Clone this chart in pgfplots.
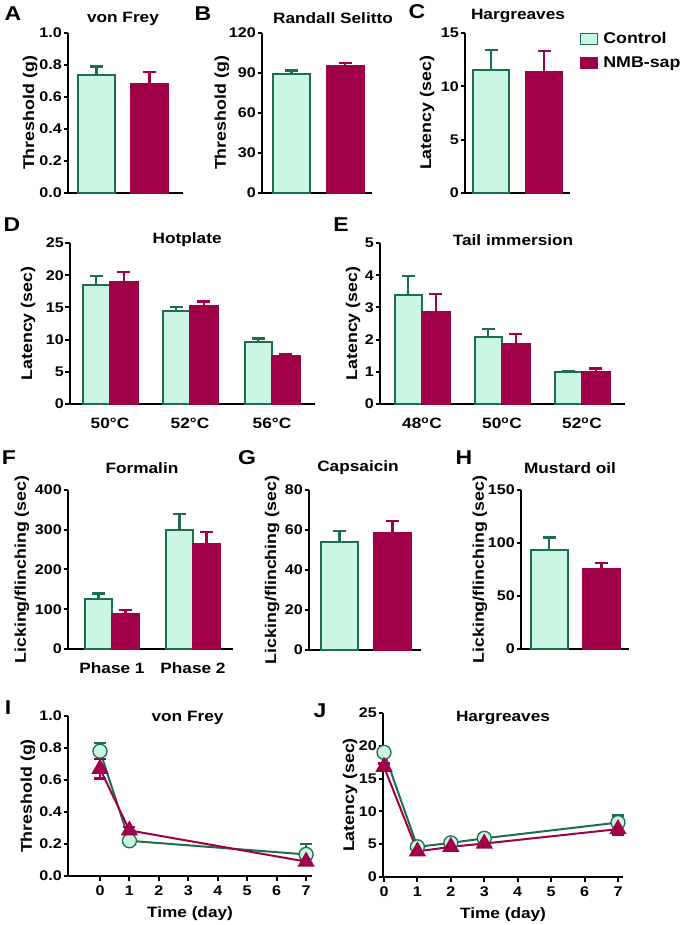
\documentclass[border=0pt]{standalone}
\usepackage{fontspec}
\setmainfont{Liberation Sans}[FakeStretch=1.15]
\usepackage{pgfplots}
\pgfplotsset{compat=1.18}
\definecolor{ctrlfill}{RGB}{204,246,228}
\definecolor{ctrledge}{RGB}{28,110,78}
\definecolor{nmb}{RGB}{160,0,72}
\newcommand{\fs}{\fontsize{15}{17}\selectfont\bfseries}
\newcommand{\ft}{\fontsize{14}{16}\selectfont\bfseries}
\newcommand{\fy}{\fontsize{15.5}{17}\selectfont\bfseries}
\newcommand{\fl}{\fontsize{20}{23}\selectfont\bfseries}
\pgfplotsset{
 panel/.style={
  scale only axis, clip=false,
  axis x line*=bottom, axis y line*=left,
  axis line style={line width=2.4pt,-},
  ymin=0,
  tick align=outside,
  major tick length=4.5pt,
  tick style={line width=2pt,black},
  /pgf/number format/assume math mode=true,
  xticklabel style={font=\fs},
  yticklabel style={font=\ft, inner sep=1.5pt},
  xlabel style={font=\fs},
  ylabel style={font=\fy},
  title style={font=\fs, anchor=center, yshift=-7pt},
 },
 barpanel/.style={panel, xtick style={draw=none}, xticklabel style={yshift=-6pt}},
 cbar/.style={fill=ctrlfill, draw=ctrledge, line width=2pt,
   error bars/y dir=plus, error bars/y explicit,
   error bars/error bar style={line width=2.4pt, ctrledge, solid},
   error bars/error mark options={rotate=90, mark size=6.5pt, line width=2.4pt, ctrledge, solid}},
 nbar/.style={fill=nmb, draw=nmb, line width=2pt,
   error bars/y dir=plus, error bars/y explicit,
   error bars/error bar style={line width=2.4pt, nmb, solid},
   error bars/error mark options={rotate=90, mark size=6.5pt, line width=2.4pt, nmb, solid}},
 lgimg/.style={legend image code/.code={\draw[##1, line width=1.3pt] (0pt,-5.5pt) rectangle (17pt,5.5pt); \path[draw=none,fill=none] (0pt,0pt) -- (21pt,0pt);}},
 cline/.style={ctrledge, line width=2pt, mark=*, mark size=7pt,
   mark options={fill=ctrlfill, draw=ctrledge, line width=1.3pt, solid},
   error bars/y dir=both, error bars/y explicit,
   error bars/error bar style={line width=2.4pt, ctrledge},
   error bars/error mark options={rotate=90, mark size=6pt, line width=2.4pt, ctrledge}},
 nline/.style={nmb, line width=2pt, mark=triangle*, mark size=8pt,
   mark options={fill=nmb, draw=nmb, solid},
   error bars/y dir=both, error bars/y explicit,
   error bars/error bar style={line width=2.4pt, nmb},
   error bars/error mark options={rotate=90, mark size=6pt, line width=2.4pt, nmb}},
 linepanel/.style={panel, xticklabel style={font=\ft, yshift=-2pt}, xlabel style={yshift=-4pt}},
}
\begin{document}
\begin{tikzpicture}
\useasboundingbox (0,0) rectangle (685pt,925pt);
% ---------- A ----------
\begin{axis}[barpanel, at={(68pt,732pt)}, anchor=south west, width=115pt, height=160pt,
  xmin=0, xmax=115, ymax=1, ytick={0,0.2,0.4,0.6,0.8,1}, xtick=\empty,
  yticklabel style={/pgf/number format/fixed, /pgf/number format/fixed zerofill, /pgf/number format/precision=1},
  ylabel={Threshold (g)}, ylabel style={at={(axis description cs:-0.33,0.5)}, anchor=center},
  title={von Frey}, title style={at={(axis description cs:0.478,1.094)}}]
\addplot[ybar, bar width=37, bar shift=0pt, cbar] coordinates {(28.5,0.74) +- (0,0.05)};
\addplot[ybar, bar width=37, bar shift=0pt, nbar] coordinates {(81.5,0.68) +- (0,0.075)};
\end{axis}
% ---------- B ----------
\begin{axis}[barpanel, at={(262pt,732pt)}, anchor=south west, width=110pt, height=160pt,
  xmin=0, xmax=110, ymax=120, ytick={0,30,60,90,120}, xtick=\empty,
  ylabel={Threshold (g)}, ylabel style={at={(axis description cs:-0.364,0.5)}, anchor=center},
  title={Randall Selitto}, title style={at={(axis description cs:0.645,1.1)}}]
\addplot[ybar, bar width=37, bar shift=0pt, cbar] coordinates {(29.5,89.5) +- (0,2.5)};
\addplot[ybar, bar width=37, bar shift=0pt, nbar] coordinates {(83,95.5) +- (0,2)};
\end{axis}
% ---------- C ----------
\begin{axis}[barpanel, at={(465pt,732pt)}, anchor=south west, width=105pt, height=160pt,
  xmin=0, xmax=105, ymax=15, ytick={0,5,10,15}, xtick=\empty,
  ylabel={Latency (sec)}, ylabel style={at={(axis description cs:-0.362,0.5)}, anchor=center},
  title={Hargreaves}, title style={at={(axis description cs:0.505,1.11)}},
  legend style={at={(axis description cs:1.09,1.018)}, anchor=north west, draw=none, fill=none,
    font=\fy, row sep=8pt, inner sep=0pt},
  legend cell align=left]
\addplot[ybar, bar width=36, bar shift=0pt, cbar, lgimg] coordinates {(26,11.5) +- (0,1.9)};
\addlegendentry{Control}
\addplot[ybar, bar width=36, bar shift=0pt, nbar, lgimg] coordinates {(79,11.3) +- (0,2.0)};
\addlegendentry{NMB-sap}
\end{axis}
% ---------- D ----------
\begin{axis}[barpanel, at={(70pt,521pt)}, anchor=south west, width=245pt, height=161pt,
  ybar=0pt, bar width=27.5,
  xmin=0, xmax=245, ymax=25, ytick={0,5,10,15,20,25},
  xtick={40,120,202}, xticklabels={50°C,52°C,56°C},
  ylabel={Latency (sec)}, ylabel style={at={(axis description cs:-0.171,0.5)}, anchor=center},
  title={Hotplate}, title style={at={(axis description cs:0.478,1.025)}}]
\addplot[cbar] coordinates {(40,18.4) +- (0,1.5) (120,14.4) +- (0,0.7) (202,9.6) +- (0,0.6)};
\addplot[nbar] coordinates {(40,18.9) +- (0,1.6) (120,15.2) +- (0,0.7) (202,7.4) +- (0,0.4)};
\end{axis}
% ---------- E ----------
\begin{axis}[barpanel, at={(380pt,521pt)}, anchor=south west, width=245pt, height=161pt,
  ybar=0pt, bar width=27.5,
  xmin=0, xmax=245, ymax=5, ytick={0,1,2,3,4,5},
  xtick={42,122,202}, xticklabels={48\textsuperscript{o}C,50\textsuperscript{o}C,52\textsuperscript{o}C},
  ylabel={Latency (sec)}, ylabel style={at={(axis description cs:-0.110,0.5)}, anchor=center},
  title={Tail immersion}, title style={at={(axis description cs:0.543,1.025)}}]
\addplot[cbar] coordinates {(42,3.4) +- (0,0.58) (122,2.07) +- (0,0.26) (202,0.98) +- (0,0.05)};
\addplot[nbar] coordinates {(42,2.85) +- (0,0.57) (122,1.85) +- (0,0.33) (202,0.99) +- (0,0.11)};
\end{axis}
% ---------- F ----------
\begin{axis}[barpanel, at={(68pt,276pt)}, anchor=south west, width=165pt, height=159pt,
  ybar=0pt, bar width=27,
  xmin=0, xmax=165, ymax=400, ytick={0,100,200,300,400},
  xtick={44,125}, xticklabels={Phase 1,Phase 2},
  ylabel={Licking/flinching (sec)}, ylabel style={at={(axis description cs:-0.279,0.5)}, anchor=center},
  title={Formalin}, title style={at={(axis description cs:0.448,1.145)}}]
\addplot[cbar] coordinates {(44,125) +- (0,15) (125,300) +- (0,40)};
\addplot[nbar] coordinates {(44,88) +- (0,10) (125,265) +- (0,30)};
\end{axis}
% ---------- G ----------
\begin{axis}[barpanel, at={(309pt,275pt)}, anchor=south west, width=112pt, height=160pt,
  xmin=0, xmax=112, ymax=80, ytick={0,20,40,60,80}, xtick=\empty,
  ylabel={Licking/flinching (sec)}, ylabel style={at={(axis description cs:-0.33,0.5)}, anchor=center},
  title={Capsaicin}, title style={at={(axis description cs:0.4375,1.144)}}]
\addplot[ybar, bar width=37, bar shift=0pt, cbar] coordinates {(30.5,54) +- (0,5.5)};
\addplot[ybar, bar width=37, bar shift=0pt, nbar] coordinates {(83.5,58.5) +- (0,6)};
\end{axis}
% ---------- H ----------
\begin{axis}[barpanel, at={(521pt,276pt)}, anchor=south west, width=108pt, height=159pt,
  xmin=0, xmax=108, ymax=150, ytick={0,50,100,150}, xtick=\empty,
  ylabel={Licking/flinching (sec)}, ylabel style={at={(axis description cs:-0.38,0.5)}, anchor=center},
  title={Mustard oil}, title style={at={(axis description cs:0.454,1.145)}}]
\addplot[ybar, bar width=37, bar shift=0pt, cbar] coordinates {(28,93) +- (0,12)};
\addplot[ybar, bar width=37, bar shift=0pt, nbar] coordinates {(80.5,75.5) +- (0,5.5)};
\end{axis}
% ---------- I ----------
\begin{axis}[linepanel, at={(68pt,49pt)}, anchor=south west, width=244pt, height=160pt,
  xmin=-1.087, xmax=7.2, ymax=1, xtick={0,...,7}, ytick={0,0.2,0.4,0.6,0.8,1},
  yticklabel style={/pgf/number format/fixed, /pgf/number format/fixed zerofill, /pgf/number format/precision=1},
  xlabel={Time (day)},
  ylabel={Threshold (g)}, ylabel style={at={(axis description cs:-0.164,0.5)}, anchor=center},
  title={von Frey}, title style={at={(axis description cs:0.49,0.994)}}]
\addplot[cline] coordinates {(0,0.78) +- (0,0.05) (1,0.22) +- (0,0.01) (7,0.135) +- (0,0.065)};
\addplot[nline] coordinates {(0,0.67) +- (0,0.06) (1,0.285) +- (0,0.02) (7,0.09) +- (0,0.02)};
\end{axis}
% ---------- J ----------
\begin{axis}[linepanel, at={(383pt,48pt)}, anchor=south west, width=240pt, height=164pt,
  xmin=-0.03, xmax=7.15, ymax=25, xtick={0,...,7}, ytick={0,5,10,15,20,25},
  xlabel={Time (day)},
  ylabel={Latency (sec)}, ylabel style={at={(axis description cs:-0.1375,0.5)}, anchor=center},
  title={Hargreaves}, title style={at={(axis description cs:0.5,0.976)}}]
\addplot[cline] coordinates {(0,19) +- (0,0.5) (1,4.6) +- (0,0.4) (2,5.2) +- (0,0.3) (3,5.9) +- (0,0.7) (7,8.3) +- (0,1.1)};
\addplot[nline] coordinates {(0,16.8) +- (0,0.5) (1,3.9) +- (0,0.3) (2,4.6) +- (0,0.4) (3,5.1) +- (0,0.5) (7,7.3) +- (0,0.8)};
\end{axis}
% panel letters
\node[font=\fl] at (13pt,911pt) {A};
\node[font=\fl] at (203pt,911pt) {B};
\node[font=\fl] at (417pt,913pt) {C};
\node[font=\fl] at (12pt,700pt) {D};
\node[font=\fl] at (341pt,700pt) {E};
\node[font=\fl] at (9pt,467pt) {F};
\node[font=\fl] at (247pt,467pt) {G};
\node[font=\fl] at (464pt,467pt) {H};
\node[font=\fl] at (8pt,217pt) {I};
\node[font=\fl] at (320pt,214pt) {J};
\end{tikzpicture}
\end{document}
